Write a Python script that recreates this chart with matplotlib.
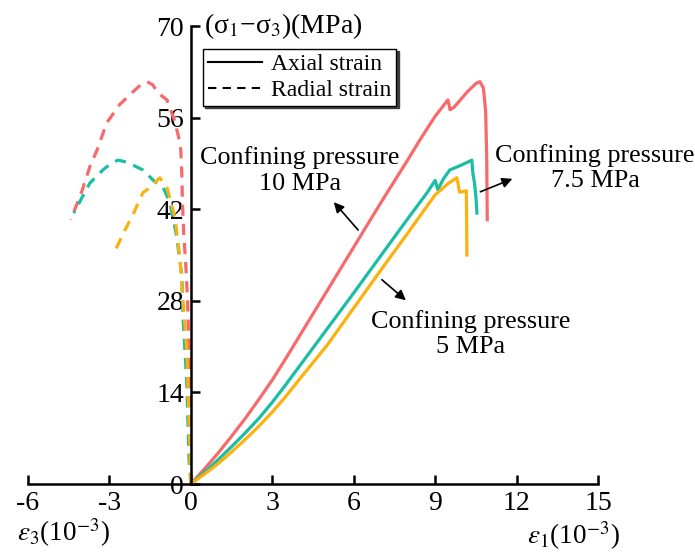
import matplotlib
matplotlib.use("Agg")
import matplotlib.pyplot as plt
from matplotlib.lines import Line2D

plt.rcParams["font.family"] = ["Liberation Serif", "DejaVu Serif"]
plt.rcParams["mathtext.fontset"] = "stix"
plt.rcParams["axes.unicode_minus"] = False

# Curvas esfuerzo-deformacion (deformacion en 10^-3, esfuerzo desviador en MPa)
colores = {"10": "#F8696B", "7.5": "#19BEA4", "5": "#FCB10E"}

# Deformacion axial
axial_10_x = [0, 0.5, 1.0, 1.5, 2.0, 2.5, 3.0, 3.5, 4.0, 5.0, 6.0, 7.0, 8.0, 8.44, 9.0, 9.47, 9.55, 9.7, 10.2, 10.5, 10.65, 10.78, 10.86, 10.9, 10.92]
axial_10_y = [0, 2.3, 4.7, 7.3, 10.0, 12.9, 15.9, 19.2, 22.6, 29.4, 36.2, 43.0, 49.6, 52.6, 56.2, 58.7, 57.2, 57.6, 60.0, 61.2, 61.5, 60.5, 57.0, 50.0, 40.4]

axial_75_x = [0, 0.5, 1.0, 1.5, 2.0, 2.5, 3.0, 3.5, 4.0, 5.0, 6.0, 7.0, 8.0, 8.7, 9.0, 9.1, 9.3, 9.54, 10.0, 10.35, 10.39, 10.45, 10.5, 10.54]
axial_75_y = [0, 1.8, 3.7, 5.7, 7.8, 10.0, 12.5, 15.2, 18.0, 23.6, 29.2, 34.9, 40.6, 44.5, 46.4, 45.0, 46.6, 48.0, 48.8, 49.5, 47.5, 46.0, 44.0, 41.4]

axial_5_x = [0, 0.5, 1.0, 1.5, 2.0, 2.5, 3.0, 3.5, 4.0, 5.0, 6.0, 7.0, 8.0, 9.0, 9.5, 9.8, 9.85, 9.9, 10.15, 10.17]
axial_5_y = [0, 1.5, 3.1, 4.9, 6.8, 8.8, 11.0, 13.4, 16.0, 21.1, 26.9, 32.7, 38.4, 44.2, 46.0, 46.8, 45.8, 44.6, 44.8, 35.0]

# Deformacion radial
radial_10_x = [0, -0.04, -0.07, -0.12, -0.18, -0.26, -0.31, -0.33, -0.37, -0.45, -0.59, -0.88, -1.22, -1.4, -1.62, -1.85, -2.17, -2.62, -3.1, -3.46, -3.72, -4.02, -4.42]
radial_10_y = [0, 8.0, 20.0, 28.0, 33.0, 38.0, 43.0, 47.0, 51.0, 53.0, 55.4, 58.7, 59.8, 61.0, 61.5, 61.0, 59.8, 58.0, 55.2, 51.0, 48.5, 44.7, 40.4]

radial_75_x = [0, -0.07, -0.15, -0.29, -0.33, -0.52, -0.77, -1.03, -1.33, -1.77, -2.36, -2.69, -3.0, -3.24, -3.72, -4.02, -4.31]
radial_75_y = [0, 4.0, 15.4, 25.5, 31.7, 37.8, 43.0, 45.4, 46.2, 48.0, 49.2, 49.5, 48.8, 48.0, 46.0, 43.7, 41.4]

radial_5_x = [0, -0.07, -0.15, -0.29, -0.4, -0.59, -0.88, -1.14, -1.58, -1.77, -2.14, -2.43, -2.73, -2.91]
radial_5_y = [0, 10.0, 20.5, 28.0, 34.5, 40.8, 45.3, 46.8, 45.1, 44.5, 41.1, 38.8, 36.2, 35.0]

xticks = [-6, -3, 0, 3, 6, 9, 12, 15]
yticks = [0, 14, 28, 42, 56, 70]

fig = plt.figure(figsize=(6.95, 5.53), dpi=100)
ax = fig.add_axes([28 / 695, 69 / 553, 570 / 695, 458 / 553])

ax.plot(axial_10_x, axial_10_y, color=colores["10"], lw=2.3)
ax.plot(axial_75_x, axial_75_y, color=colores["7.5"], lw=2.3)
ax.plot(axial_5_x, axial_5_y, color=colores["5"], lw=2.3)

ax.plot(radial_10_x, radial_10_y, color=colores["10"], lw=2.3, ls=(0, (3.5, 2.5)))
ax.plot(radial_75_x, radial_75_y, color=colores["7.5"], lw=2.3, ls=(0, (3.5, 2.5)))
ax.plot(radial_5_x, radial_5_y, color=colores["5"], lw=2.3, ls=(0, (3.5, 2.5)))

ax.set_xlim(-6, 15)
ax.set_ylim(0, 70)
ax.spines["left"].set_position(("data", 0))
ax.spines["top"].set_visible(False)
ax.spines["right"].set_visible(False)
for s in ("left", "bottom"):
    ax.spines[s].set_linewidth(1.8)
ax.set_xticks(xticks)
ax.set_yticks(yticks)
ax.set_xticklabels([str(t) for t in xticks])
ax.set_yticklabels([str(t) for t in yticks])
ax.tick_params(direction="in", length=6.5, width=1.8, labelsize=20)
ax.tick_params(axis="x", pad=5)
ax.tick_params(axis="y", pad=5)

# Etiquetas de los ejes
ax.text(0.5, 70, "(σ$_1$−σ$_3$)(MPa)", fontsize=20, ha="left", va="center")
fig.text(17 / 695, 1 - 533 / 553, r"$\varepsilon_3$(10$^{-3}$)", fontsize=19.5, ha="left", va="center")
fig.text(527 / 695, 1 - 536 / 553, r"$\varepsilon_1$(10$^{-3}$)", fontsize=19.5, ha="left", va="center")

# Anotaciones de presion de confinamiento
flecha = dict(arrowstyle="-|>", color="black", lw=1.2, mutation_scale=15)
ax.annotate("", xy=(5.2, 43.4), xytext=(6.23, 38.5), arrowprops=flecha)
ax.annotate("", xy=(11.94, 46.8), xytext=(10.57, 44.5), arrowprops=flecha)
ax.annotate("", xy=(8.0, 27.8), xytext=(6.96, 31.5), arrowprops=flecha)
ax.text(4.02, 47.9, "Confining pressure\n10 MPa", fontsize=18.8, ha="center", va="center", linespacing=1.2)
ax.text(14.89, 48.3, "Confining pressure\n7.5 MPa", fontsize=18.8, ha="center", va="center", linespacing=1.2)
ax.text(10.32, 22.9, "Confining pressure\n5 MPa", fontsize=18.8, ha="center", va="center", linespacing=1.2)

handles = [Line2D([], [], color="black", lw=1.5, ls="-"),
           Line2D([], [], color="black", lw=1.5, ls=(0, (4, 3)))]
leg = fig.legend(handles, ["Axial strain", "Radial strain"], loc="upper left",
                 bbox_to_anchor=(203 / 695, 1 - 49 / 553), fontsize=17,
                 frameon=True, fancybox=False, edgecolor="black", framealpha=1,
                 shadow={"color": "0.25", "ox": 1.5, "oy": -1.5, "alpha": 1},
                 handlelength=2.3, handletextpad=0.4, labelspacing=0.2,
                 borderpad=0.2, borderaxespad=0)
leg.get_frame().set_linewidth(1.0)

fig.savefig("out.png", dpi=100)
